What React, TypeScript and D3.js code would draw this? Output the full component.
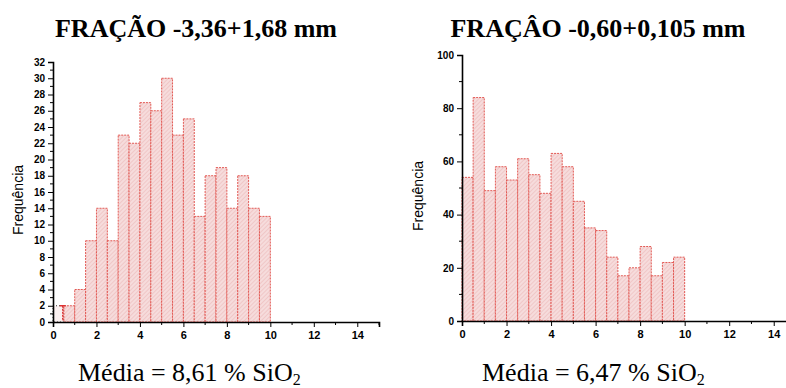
import React, { useEffect, useRef } from 'react';
import * as d3 from 'd3';

// bin starts (bin width 0.5 % SiO2)
const binStarts = [0, 0.5, 1, 1.5, 2, 2.5, 3, 3.5, 4, 4.5, 5, 5.5, 6, 6.5, 7, 7.5, 8, 8.5, 9, 9.5];
const binWidth = 0.5;

// Fração -3,36+1,68 mm
const countsCoarse = [2, 2, 4, 10, 14, 10, 23, 22, 27, 26, 30, 23, 25, 13, 18, 19, 14, 18, 14, 13];
// Fração -0,60+0,105 mm
const countsFine = [54, 84, 49, 58, 53, 61, 55, 48, 63, 58, 45, 35, 34, 24, 17, 20, 28, 17, 22, 24];

const xTicks = [0, 2, 4, 6, 8, 10, 12, 14];
const xMinor = [1, 3, 5, 7, 9, 11, 13, 15];
const yTicksCoarse = [0, 2, 4, 6, 8, 10, 12, 14, 16, 18, 20, 22, 24, 26, 28, 30, 32];
const yMinorCoarse = [1, 3, 5, 7, 9, 11, 13, 15, 17, 19, 21, 23, 25, 27, 29, 31];
const yTicksFine = [0, 20, 40, 60, 80, 100];
const yMinorFine = [10, 30, 50, 70, 90];

const titles = ['FRAÇÃO -3,36+1,68 mm', 'FRAÇÂO -0,60+0,105 mm'];
const means = ['8,61', '6,47'];

const W = 786, H = 388;

const App = () => {
  const svgRef = useRef<SVGSVGElement>(null);

  useEffect(() => {
    const svg = d3.select(svgRef.current);
    svg.selectAll('*').remove();

    const defs = svg.append('defs');
    const pat = defs.append('pattern')
      .attr('id', 'hatch')
      .attr('patternUnits', 'userSpaceOnUse')
      .attr('width', 3).attr('height', 3)
      .attr('patternTransform', 'rotate(45)');
    pat.append('rect').attr('width', 3).attr('height', 3).attr('fill', '#f6dcdc');
    pat.append('line').attr('x1', 0).attr('y1', 0).attr('x2', 0).attr('y2', 3)
      .attr('stroke', '#eab3b3').attr('stroke-width', 1);

    const drawHist = (opts) => {
      const { counts, x0, x1, yTop, yBottom, yMax, yTicks, yMinor, title, titleX, mean, meanX, labelX, firstOdd } = opts;
      const g = svg.append('g');

      const x = d3.scaleLinear().domain([0, 15]).range([x0, x1]);
      const y = d3.scaleLinear().domain([0, yMax]).range([yBottom, yTop]);

      // bars
      g.selectAll('.bar')
        .data(binStarts)
        .enter().append('rect')
        .attr('x', d => x(d))
        .attr('y', (d, i) => y(counts[i]))
        .attr('width', x(binWidth) - x(0))
        .attr('height', (d, i) => y(0) - y(counts[i]))
        .attr('fill', (d, i) => (firstOdd && i === 0 ? '#fbf1f1' : 'url(#hatch)'))
        .attr('stroke', (d, i) => (firstOdd && i === 0 ? '#333' : '#e25a55'))
        .attr('stroke-width', 1)
        .attr('stroke-dasharray', (d, i) => (firstOdd && i === 0 ? '1,2' : '2,1'));

      if (firstOdd) {
        // small red error mark on the first bin
        const cx = x(0.45);
        g.append('line').attr('x1', cx).attr('x2', cx).attr('y1', y(counts[0])).attr('y2', y(0) - 1)
          .attr('stroke', '#d33').attr('stroke-width', 1.5).attr('stroke-dasharray', '2,1');
        g.append('line').attr('x1', cx - 3).attr('x2', cx + 3).attr('y1', y(counts[0])).attr('y2', y(counts[0]))
          .attr('stroke', '#d33').attr('stroke-width', 1.5);
      }

      // x axis
      const xa = g.append('g')
        .attr('transform', `translate(0,${yBottom})`)
        .call(d3.axisBottom(x).tickValues(xTicks).tickSize(5).tickFormat(d3.format('d')));
      xa.select('.domain').attr('stroke-width', 1.6);
      xa.selectAll('text').attr('font-family', 'Liberation Sans, Arial, sans-serif')
        .attr('font-size', 11).attr('font-weight', 'bold').attr('dy', '0.85em');
      g.selectAll('.xminor').data(xMinor).enter().append('line')
        .attr('x1', d => x(d)).attr('x2', d => x(d))
        .attr('y1', yBottom).attr('y2', yBottom + 3)
        .attr('stroke', '#000');

      // y axis
      const ya = g.append('g')
        .attr('transform', `translate(${x0},0)`)
        .call(d3.axisLeft(y).tickValues(yTicks).tickSize(5).tickFormat(d3.format('d')));
      ya.select('.domain').attr('stroke-width', 1.6);
      ya.selectAll('text').attr('font-family', 'Liberation Sans, Arial, sans-serif')
        .attr('font-size', 10).attr('font-weight', 'bold');
      g.selectAll('.yminor').data(yMinor).enter().append('line')
        .attr('x1', x0 - 3).attr('x2', x0)
        .attr('y1', d => y(d)).attr('y2', d => y(d))
        .attr('stroke', '#000');

      // y label
      g.append('text')
        .attr('transform', `translate(${labelX},${(yTop + yBottom) / 2 + 8}) rotate(-90)`)
        .attr('text-anchor', 'middle')
        .attr('font-family', 'Liberation Sans, Arial, sans-serif')
        .attr('font-size', 14)
        .text('Frequência');

      // title
      g.append('text')
        .attr('x', titleX).attr('y', 37)
        .attr('text-anchor', 'middle')
        .attr('font-family', 'Liberation Serif, Times New Roman, serif')
        .attr('font-weight', 'bold')
        .attr('font-size', 26)
        .text(title);

      // mean
      const m = g.append('text')
        .attr('x', meanX).attr('y', 381)
        .attr('font-family', 'Liberation Serif, Times New Roman, serif')
        .attr('font-size', 26);
      m.append('tspan').text(`Média = ${mean} % SiO`);
      m.append('tspan').attr('font-size', 16).attr('dy', 4).text('2');
    };

    drawHist({
      counts: countsCoarse, x0: 53, x1: 379, yTop: 62, yBottom: 322, yMax: 32,
      yTicks: yTicksCoarse, yMinor: yMinorCoarse, title: titles[0], titleX: 196,
      mean: means[0], meanX: 78, labelX: 23, firstOdd: true,
    });
    drawHist({
      counts: countsFine, x0: 462, x1: 796, yTop: 55, yBottom: 321, yMax: 100,
      yTicks: yTicksFine, yMinor: yMinorFine, title: titles[1], titleX: 598,
      mean: means[1], meanX: 482, labelX: 423, firstOdd: false,
    });
  }, []);

  return (
    <svg ref={svgRef} width={W} height={H}
      style={{ position: 'absolute', left: 0, top: 0, background: '#fff' }} />
  );
};

export default App;
